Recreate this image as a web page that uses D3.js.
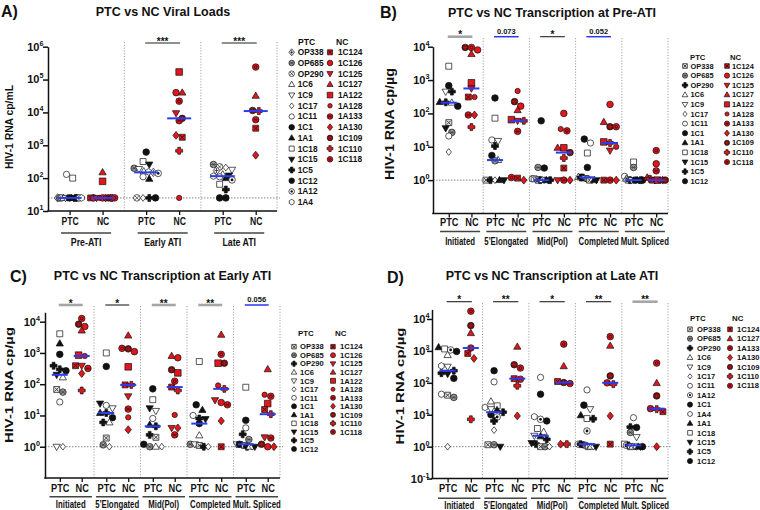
<!DOCTYPE html>
<html><head><meta charset="utf-8">
<script src="https://cdn.jsdelivr.net/npm/d3@7"></script>
<style>
body{margin:0;background:#fff}
svg{display:block}
text{font-family:"Liberation Sans",Arial,Helvetica,sans-serif;font-weight:bold;fill:#111}
</style></head>
<body><svg width="760" height="510"></svg>
<script>
// ================= DATA =================
// Panel A: viral loads (cp/mL)
const groupsA = ["Pre-ATI", "Early ATI", "Late ATI"];
const idsPTC_A = ["OP338","OP685","OP290","1C6","1C9","1C17","1C11","1C1","1A1","1C18","1C15","1C5","1C12","1A12","1A4"];
const idsNC_A  = ["1C124","1C126","1C125","1C127","1A122","1A128","1A133","1A130","1C109","1C110","1C118"];
const ptcA = [
  [25,25,25,25,25,25,130,25,25,100,25,25,25,25,25],
  [150,200,25,160,190,25,110,620,95,320,260,25,25,140,155],
  [170,260,220,130,180,210,110,25,100,65,120,45,25,88,115]
];
const ncA = [
  [25,25,25,150,80,25,25,25,25,25,25],
  [1750,40000,9500,40000,170000,25,5600,2000,6600,680,22000],
  [3300,null,null,32000,null,null,6000,500,11500,11000,240000]
];
const sigA = ["", "***", "***"];
const sigKindA = ["", "k", "k"];

// Transcription panels (cp/µg)
const groupsT = ["Initiated", "5'Elongated", "Mid(Pol)", "Completed", "Mult. Spliced"];
const idsPTC_BC = ["OP338","OP685","OP290","1C6","1C9","1C17","1C11","1C1","1A1","1C18","1C15","1C5","1C12"];
const idsNC_BC  = ["1C124","1C126","1C125","1C127","1A122","1A128","1A133","1A130","1C109","1C110","1C118"];

// Panel B: Pre-ATI
const ptcB = [
  [53,27,215,210,450,7,21,680,220,2600,36,450,165],
  [1,3.8,1,4,15,1,16,290,1,72,1,10.5,5.5],
  [1,2.4,1,1,1.05,1,1.1,60,1,1.1,1,1,2.3],
  [1,1.1,1.2,1.25,1.15,1,13,2.4,1,6.5,1,1.2,17],
  [1,2.4,1,1.1,1,1,1.3,1,1,3.5,1,1,1]
];
const ncB = [
  [310,8000,560,6000,830,310,90,90,9500,39,9500],
  [1.15,165,60,125,65,470,29,1,225,60,1.2],
  [2.3,100,1,9.3,9.3,34,1,1,6.7,4.6,30],
  [1,186,7.7,55,14,10,1,1,40,13,40],
  [1,3.1,1,1.2,1,1,1.9,1,1,1.1,7.7]
];
const sigB = ["*", "0.073", "*", "0.052", ""];
const sigKindB = ["g", "b", "k", "b", ""];

// Panel C: Early ATI
const ptcC = [
  [68,56,300,165,1,1,27,900,2000,4100,200,390,270],
  [1.9,1.15,6,6,17,1,21,370,12,1000,24,12,8.5],
  [2,1,4.5,1,14,1,8,71,5,32,17,2.4,1.2],
  [1.1,1.2,1,2.3,1.2,1,10,22,15,530,7.7,8,5.5],
  [1.1,1.7,1,1,1.2,1,4,7,1.15,80,1,2.5,1.2]
];
const ncC = [
  [390,7000,390,5200,850,800,320,220,8300,63,12600],
  [95,1100,41,3600,360,8.7,16,3.5,1350,95,1400],
  [81,700,4,800,230,10.4,2.4,4,290,63,125],
  [1,26,31,3800,470,91,22,6.7,470,71,900],
  [15.5,1,2,300,24,46,1.9,1,1.2,11,41]
];
const sigC = ["*", "*", "**", "**", "0.056"];
const sigKindC = ["g", "k", "g", "g", "b"];

// Panel D: Late ATI
const idsPTC_D = ["OP338","OP685","OP290","1C6","1C9","1C17","1C11","1A12","1C1","1A4","1A1","1C18","1C15","1C5","1C12"];
const idsNC_D  = ["1C124","1C127","1A133","1A130","1C109","1C110","1C118"];
const ptcD = [
  [41,35,240,740,320,1,44,1070,960,340,1300,1150,190,200,138],
  [1.15,1.15,12,26,15,3.3,107,8.5,240,17,14,19,1,6.4,10],
  [1,1,1.2,2.9,2.2,1,148,7.2,44,8.7,2.1,3.7,1.3,1.7,6.4],
  [1,1.1,7.5,1,15,1,60,3.1,20,1.2,9.6,7.6,1,1.2,1.15],
  [1,2.8,4.1,1,2,1,8.1,1.1,4,1,1,1.2,1,1.1,1]
];
const ncD = [
  [830,3600,1230,580,6200,7.2,17500],
  [135,1350,130,9.2,370,81,290],
  [110,330,95,1.2,102,1.2,1630],
  [1.2,1450,100,9.2,165,91,2800],
  [12.5,98,15.5,1,39,15,415]
];
const sigD = ["*", "**", "*", "**", "**"];
const sigKindD = ["k", "k", "k", "k", "g"];

// Symbol lookup per subject
const PTC_SYMS = {OP338:"sqx",OP685:"hatch",OP290:"plus","1C6":"triO","1C9":"triDO","1C17":"diaO","1C11":"circO","1C1":"circF","1A1":"triF","1C18":"sqO","1C15":"triDF","1C5":"plus","1C12":"circF","1A12":"dotc","1A4":"hexO"};
const PTC_SYMS_A = Object.assign({}, PTC_SYMS, {OP338:"crossdia", OP290:"xcirc"});
const NC_SYMS = {"1C124":"sqx","1C126":"circF","1C125":"triDF","1C127":"triF","1A122":"sqF","1A128":"circS","1A133":"hatch","1A130":"diaF","1C109":"circD","1C110":"plus","1C118":"dotc"};

// ================= DRAWING =================
const svg = d3.select("svg");
const RED = "#e3161c";
const SIGCOL = {k:"#222", g:"#a6a6a6", b:"#2a36f5"};
const SIGW = {k:1.1, g:2.6, b:1.5};

const tri = r => `M0,${-r*1.15}L${r*1.1},${r*0.75}L${-r*1.1},${r*0.75}Z`;
const triD = r => `M0,${r*1.15}L${r*1.1},${-r*0.75}L${-r*1.1},${-r*0.75}Z`;
const dia = r => `M0,${-r*1.2}L${r*0.95},0L0,${r*1.2}L${-r*0.95},0Z`;
const sq = r => `M${-r},${-r}h${2*r}v${2*r}h${-2*r}Z`;
const cross = r => { const a = r*0.4, b = r - a; return `M${-a},${-r}h${2*a}v${b}h${b}v${2*a}h${-b}v${b}h${-2*a}v${-b}h${-b}v${-2*a}h${b}Z`; };
const hex = r => d3.range(6).map(i => { const t = Math.PI/6 + i*Math.PI/3; return (i?"L":"M") + (r*Math.cos(t)).toFixed(2) + "," + (r*Math.sin(t)).toFixed(2); }).join("") + "Z";

function drawSym(g, code, nc, x, y, r) {
  const s = g.append("g").attr("transform", `translate(${x.toFixed(2)},${y.toFixed(2)})`);
  const K = "#111", fillF = nc ? RED : K;
  const shape = (d, fill) => s.append("path").attr("d", d).attr("fill", fill).attr("stroke", K).attr("stroke-width", 0.7);
  const circ = (rr, fill) => s.append("circle").attr("r", rr).attr("fill", fill).attr("stroke", K).attr("stroke-width", 0.7);
  const ln = (d, c, w) => s.append("path").attr("d", d).attr("stroke", c).attr("stroke-width", w).attr("fill", "none");
  const q = r*0.62;
  switch (code) {
    case "circO": circ(r*0.95, "#fff"); break;
    case "circF": circ(r, fillF); break;
    case "circS": circ(r*0.8, fillF); break;
    case "circD": circ(r, "#7a0d0d"); ln(`M${-q},0h${2*q}M0,${-q}v${2*q}`, "#b52020", 0.7); break;
    case "triO": shape(tri(r), "#fff"); break;
    case "triF": shape(tri(r), fillF); break;
    case "triDO": shape(triD(r), "#fff"); break;
    case "triDF": shape(triD(r), fillF); break;
    case "diaO": shape(dia(r*0.85), "#fff"); break;
    case "diaF": shape(dia(r), fillF); break;
    case "sqO": shape(sq(r*0.9), "#fff"); break;
    case "sqF": shape(sq(r), fillF); break;
    case "sqx": shape(sq(r*0.9), nc ? RED : "#e6e6e6"); ln(`M${-q},${-q}L${q},${q}M${-q},${q}L${q},${-q}`, nc ? "#2a0000" : "#333", 0.9); break;
    case "hatch": circ(r, nc ? RED : "#9b9b9b"); ln(`M${-q},${-q}L${q},${q}M${-q},${q}L${q},${-q}M${-r*0.8},0h${r*1.6}`, nc ? "#3a0000" : "#333", 0.6); break;
    case "plus": shape(cross(r*1.05), fillF); break;
    case "dotc": circ(r, nc ? RED : "#fff"); s.append("circle").attr("r", r*0.42).attr("fill", nc ? RED : "#111").attr("stroke", nc ? "#300" : "none").attr("stroke-width", 0.8); break;
    case "xcirc": circ(r, "#fff"); ln(`M${-q},${-q}L${q},${q}M${-q},${q}L${q},${-q}`, "#222", 0.7); break;
    case "crossdia": shape(dia(r*1.05), "#fff"); ln(`M${-q},0h${2*q}M0,${-q*1.2}v${2.4*q}`, "#222", 0.8); break;
    case "hexO": shape(hex(r), "#fff"); break;
  }
}

function txt(g, x, y, s, size, opt = {}) {
  const t = g.append("text").attr("font-size", size).attr("text-anchor", opt.anchor || "start").text(s);
  const base = `translate(${x},${y})` + (opt.rot ? ` rotate(${opt.rot})` : "");
  let sx = opt.sx || 1;
  if (opt.len) sx = opt.len / t.node().getComputedTextLength();
  t.attr("transform", base + (sx !== 1 ? ` scale(${sx},1)` : ""));
  return t;
}

// swarm layout: rows of near-equal y spread horizontally
function swarm(items, y, cx, D, maxHalf) {
  const pts = items.map(d => Object.assign({}, d, {py: y(d.v)})).sort((a, b) => a.py - b.py);
  const rows = [];
  pts.forEach(p => {
    const last = rows[rows.length - 1];
    if (last && Math.abs(p.py - last[0].py) < D * 0.85) last.push(p); else rows.push([p]);
  });
  rows.forEach(row => {
    const n = row.length, w = Math.min((n - 1) * D, 2 * maxHalf);
    row.forEach((p, i) => p.px = cx + (n === 1 ? 0 : -w / 2 + i * w / (n - 1)));
  });
  return pts;
}

function panel(c) {
  const g = svg.append("g");
  const y = d3.scaleLog().domain(c.yDomain).range(c.yRange);
  const xg = d3.scaleBand().domain(c.groups).range(c.bandRange);
  const xi = d3.scalePoint().domain(["PTC", "NC"]).range([0, xg.bandwidth()]).padding(c.innerPad);
  const pos = (grp, s) => xg(grp) + xi(s);
  const yb = c.yRange[0];

  // dotted separators
  const seps = c.groups.slice(1).map(gr => xg(gr)).concat([c.axisX1]);
  g.selectAll(".sep").data(seps).join("line")
    .attr("x1", d => d).attr("x2", d => d).attr("y1", c.sepTop).attr("y2", yb)
    .attr("stroke", "#8c8c8c").attr("stroke-width", 0.8).attr("stroke-dasharray", "1.2,1.6");
  // reference line (LOD)
  g.append("line").attr("x1", c.axisX0).attr("x2", c.axisX1 + 3)
    .attr("y1", y(c.refVal)).attr("y2", y(c.refVal))
    .attr("stroke", "#777").attr("stroke-width", 0.9).attr("stroke-dasharray", "1.5,1.5");

  // y axis
  const yAx = g.append("g").attr("transform", `translate(${c.axisX0},0)`)
    .call(d3.axisLeft(y).tickValues(c.exps.map(e => Math.pow(10, e))).tickSize(5).tickSizeOuter(0).tickFormat(""));
  yAx.selectAll("path,line").attr("stroke", "#111").attr("stroke-width", 1.5);
  c.exps.forEach(e => {
    const t = g.append("text").attr("x", c.ytickEnd).attr("y", y(Math.pow(10, e)) + 3.9)
      .attr("text-anchor", "end").attr("font-size", 11);
    t.append("tspan").text("10");
    t.append("tspan").attr("dy", -5).attr("font-size", 7.2).text(String(e));
  });

  // x axis
  const keys = [], xs = [];
  c.groups.forEach(gr => ["PTC", "NC"].forEach(s => { keys.push(gr + "|" + s); xs.push(pos(gr, s)); }));
  const xo = d3.scaleOrdinal().domain(keys).range(xs);
  const xAx = g.append("g").attr("transform", `translate(0,${yb})`)
    .call(d3.axisBottom(xo).tickSize(4).tickSizeOuter(0).tickPadding(c.tickLabY - yb - 4 - 7.5).tickFormat(k => k.split("|")[1]));
  xAx.select(".domain").remove();
  xAx.selectAll("line").attr("stroke", "#111").attr("stroke-width", 1.3);
  xAx.selectAll("text").attr("font-size", 10.5).attr("font-family", null).attr("fill", "#111")
    .attr("transform", `scale(${c.tickSx},1)`);
  g.append("line").attr("x1", c.axisX0 - 0.75).attr("x2", c.axisX1).attr("y1", yb).attr("y2", yb)
    .attr("stroke", "#111").attr("stroke-width", 1.5);

  // group bars & labels
  c.groups.forEach(gr => {
    const cx = xg(gr) + xg.bandwidth() / 2;
    const hw = c.barHalf || (xg.bandwidth() / 2 - 2);
    g.append("line").attr("x1", cx - hw).attr("x2", cx + hw).attr("y1", c.barY).attr("y2", c.barY)
      .attr("stroke", "#444").attr("stroke-width", 1.6);
    txt(g, cx, c.grpLabY, gr, 10.2, {anchor: "middle", sx: c.grpSx});
  });

  // points
  const r = c.r;
  c.groups.forEach((gr, gi) => {
    [["PTC", c.ptc[gi], c.ptcIds, c.ptcSyms, false], ["NC", c.nc[gi], c.ncIds, NC_SYMS, true]].forEach(([s, vals, ids, syms, isNC]) => {
      const items = vals.map((v, i) => ({v, id: ids[i]})).filter(d => d.v != null);
      const pts = swarm(items, y, pos(gr, s), 6.2, c.maxHalf);
      pts.forEach(p => drawSym(g, syms[p.id], isNC, p.px, p.py, r));
      const med = d3.median(items, d => d.v);
      g.append("line").attr("x1", pos(gr, s) - c.medW / 2).attr("x2", pos(gr, s) + c.medW / 2)
        .attr("y1", y(med)).attr("y2", y(med)).attr("stroke", "#2b3cf2").attr("stroke-width", 2);
    });
  });

  // significance
  c.groups.forEach((gr, gi) => {
    const lab = c.sig[gi], kind = c.sigKind[gi];
    if (!lab) return;
    const x1 = pos(gr, "PTC") - 1, x2 = pos(gr, "NC") + 1;
    g.append("line").attr("x1", x1).attr("x2", x2).attr("y1", c.sigY).attr("y2", c.sigY)
      .attr("stroke", SIGCOL[kind]).attr("stroke-width", SIGW[kind]);
    const isNum = /\d/.test(lab);
    txt(g, (x1 + x2) / 2, c.sigY - (isNum ? 3 : -1.5), lab, isNum ? 7.5 : 10, {anchor: "middle"});
  });

  // y label
  txt(g, c.ylab.x, c.ylab.y, c.ylab.text, c.ylab.size, {anchor: "middle", rot: -90, len: c.ylab.len});
  // title & letter
  txt(g, c.title.x, c.title.y, c.title.text, 12.5, {anchor: "middle"});
  txt(g, c.letter.x, c.letter.y, c.letter.text, 16);

  // legend
  const L = c.legend;
  txt(g, L.hx, L.hy + 3, "PTC", L.size + 0.3);
  txt(g, L.hncx, L.hy + 3, "NC", L.size + 0.3);
  c.ptcIds.forEach((id, i) => {
    const yy = L.y0 + i * L.dy;
    drawSym(g, c.ptcSyms[id], false, L.x, yy, L.r);
    txt(g, L.tx, yy + L.size * 0.36, id, L.size);
  });
  c.ncIds.forEach((id, i) => {
    const yy = L.y0 + i * L.dy;
    drawSym(g, NC_SYMS[id], true, L.ncx, yy, L.r);
    txt(g, L.nctx, yy + L.size * 0.36, id, L.size);
  });
}

panel({
  groups: groupsA, ptc: ptcA, nc: ncA, ptcIds: idsPTC_A, ncIds: idsNC_A, ptcSyms: PTC_SYMS_A,
  sig: sigA, sigKind: sigKindA,
  yDomain: [10, 1e6], yRange: [211, 46.7], exps: [1, 2, 3, 4, 5, 6],
  axisX0: 48, axisX1: 277, bandRange: [47.8, 277.5], innerPad: 0.66,
  sepTop: 42, refVal: 25, ytickEnd: 43.5,
  ylab: {text: "HIV-1 RNA cp/mL", x: 13, y: 127, size: 11.5, len: 84},
  tickLabY: 225, tickSx: 0.82, barY: 233, barHalf: 25, grpLabY: 245.5, grpSx: 0.86,
  sigY: 43, medW: 24, maxHalf: 12, r: 3.3,
  legend: {hx: 298, hncx: 336, hy: 41.7, x: 291.7, tx: 297.7, ncx: 330, nctx: 338, y0: 52.3, dy: 10.7, size: 8.3, r: 2.8},
  title: {text: "PTC vs NC Viral Loads", x: 163, y: 15.5}, letter: {text: "A)", x: 1, y: 16.7}
});

panel({
  groups: groupsT, ptc: ptcB, nc: ncB, ptcIds: idsPTC_BC, ncIds: idsNC_BC, ptcSyms: PTC_SYMS,
  sig: sigB, sigKind: sigKindB,
  yDomain: [0.1, 1e4], yRange: [213.5, 46.7], exps: [0, 1, 2, 3, 4],
  axisX0: 433, axisX1: 668, bandRange: [437, 668], innerPad: 0.52,
  sepTop: 38, refVal: 1, ytickEnd: 429.5,
  ylab: {text: "HIV-1 RNA cp/µg", x: 394, y: 124, size: 12, len: 112},
  tickLabY: 226, tickSx: 0.88, barY: 231.5, barHalf: 20, grpLabY: 244.5, grpSx: 0.765,
  sigY: 36.7, medW: 16, maxHalf: 9, r: 3.3,
  legend: {hx: 690, hncx: 730, hy: 57.3, x: 685, tx: 690.5, ncx: 727, nctx: 732, y0: 66, dy: 9.6, size: 7.4, r: 2.6},
  title: {text: "PTC vs NC Transcription at Pre-ATI", x: 552, y: 17}, letter: {text: "B)", x: 380, y: 18}
});

panel({
  groups: groupsT, ptc: ptcC, nc: ncC, ptcIds: idsPTC_BC, ncIds: idsNC_BC, ptcSyms: PTC_SYMS,
  sig: sigC, sigKind: sigKindC,
  yDomain: [0.1, Math.pow(10, 4.3)], yRange: [478, 312.3], exps: [0, 1, 2, 3, 4],
  axisX0: 45, axisX1: 280, bandRange: [47.5, 280], innerPad: 0.56,
  sepTop: 306, refVal: 1, ytickEnd: 40,
  ylab: {text: "HIV-1 RNA cp/µg", x: 13, y: 385, size: 11.5, len: 116},
  tickLabY: 492, tickSx: 0.88, barY: 496.7, grpLabY: 507.8, grpSx: 0.765,
  sigY: 305, medW: 16, maxHalf: 9, r: 3.3,
  legend: {hx: 298, hncx: 335, hy: 333, x: 294, tx: 300, ncx: 333, nctx: 340, y0: 346.7, dy: 8.52, size: 7.6, r: 2.5},
  title: {text: "PTC vs NC Transcription at Early ATI", x: 162.5, y: 280}, letter: {text: "C)", x: 10, y: 282}
});

panel({
  groups: groupsT, ptc: ptcD, nc: ncD, ptcIds: idsPTC_D, ncIds: idsNC_D, ptcSyms: PTC_SYMS,
  sig: sigD, sigKind: sigKindD,
  yDomain: [0.1, Math.pow(10, 4.3)], yRange: [478.6, 309.4], exps: [-1, 0, 1, 2, 3, 4],
  axisX0: 432, axisX1: 668, bandRange: [436, 668.3], innerPad: 0.5,
  sepTop: 303, refVal: 1, ytickEnd: 429.5,
  ylab: {text: "HIV-1 RNA cp/µg", x: 404, y: 386, size: 11.5, len: 117},
  tickLabY: 492, tickSx: 0.88, barY: 498.3, grpLabY: 508.8, grpSx: 0.765,
  sigY: 301.7, medW: 16, maxHalf: 9, r: 3.3,
  legend: {hx: 690, hncx: 732, hy: 318, x: 690, tx: 697, ncx: 730, nctx: 737, y0: 329.3, dy: 9.41, size: 7.6, r: 2.6},
  title: {text: "PTC vs NC Transcription at Late ATI", x: 552, y: 280}, letter: {text: "D)", x: 387, y: 283}
});
</script>
</body></html>
